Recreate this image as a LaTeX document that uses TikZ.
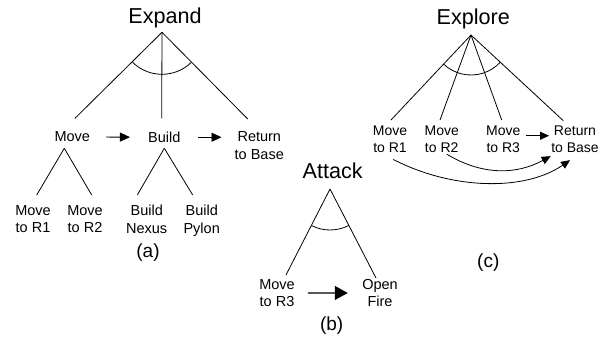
\documentclass[tikz,border=0pt]{standalone}
\usepackage{fontspec}
\setmainfont{Liberation Sans}
\usetikzlibrary{arrows.meta,calc}
\begin{document}
\begin{tikzpicture}[x=1pt,y=-1pt,
  ln/.style={line width=0.8pt},
  arr/.style={line width=0.9pt,-{Triangle[length=10pt,width=9pt]}},
  sarr/.style={line width=0.8pt,-{Triangle[length=9pt,width=8pt]}},
  barr/.style={line width=1.2pt,-{Triangle[length=13pt,width=14pt]}},
  ttl/.style={font=\fontsize{21.6}{26}\selectfont, anchor=base, inner sep=0pt},
  sub/.style={font=\fontsize{19}{23}\selectfont, inner sep=0pt},
  lblA/.style={font=\fontsize{14.5}{17.6}\selectfont, align=center, anchor=north, inner xsep=0pt, inner ysep=13.4pt},
  lblL/.style={font=\fontsize{14.5}{17.6}\selectfont, align=center, anchor=north, inner xsep=0pt, inner ysep=10pt},
  lblE/.style={font=\fontsize{14}{16.7}\selectfont, align=center, anchor=north, inner xsep=0pt, inner ysep=6pt},
  lblB/.style={font=\fontsize{14.5}{16.7}\selectfont, align=center, anchor=north, inner xsep=0pt, inner ysep=4pt}
]
\fill[white] (0,0) rectangle (610,343);
\useasboundingbox (0,0) rectangle (610,343);

% ---------- (a) Expand ----------
\node[ttl] (expand) at (165,23.5) {Expand};
\coordinate (ea) at (162,32.3);
\node[lblA] (move)  at (72.3,118.3) {Move};
\node[lblA] (build) at (164.3,118.3) {Build};
\node[lblA] (ret)   at (259.3,118.3) {Return\\to Base};
\draw[ln] (ea) -- ($(move.north)+(2.7,0)$);
\draw[ln] (ea) -- ($(build.north)+(-2.6,0)$);
\draw[ln] (ea) -- ($(ret.north)+(-11.6,0.7)$);
\draw[ln] ($(ea)+(45.3:42)$) arc[start angle=45.3,end angle=135.3,radius=42];
\draw[arr, shorten <=16pt, shorten >=18pt] (move.east) -- (build.west);
\draw[arr, shorten <=17.6pt, shorten >=13pt] (build.east) -- (build.east -| ret.west);

\coordinate (mva) at (64.3,148.3);
\coordinate (bda) at (164.3,148.3);
\node[lblL] (m1)    at (33,195)    {Move\\to R1};
\node[lblL] (m2)    at (85,195)    {Move\\to R2};
\node[lblL] (nexus) at (146.7,195) {Build\\Nexus};
\node[lblL] (pylon) at (201.7,195) {Build\\Pylon};
\draw[ln] (mva) -- ($(m1.north)+(3.7,0)$);
\draw[ln] (mva) -- ($(m2.north)+(6.7,0)$);
\draw[ln] (bda) -- ($(nexus.north)+(-9.4,0)$);
\draw[ln] (bda) -- ($(pylon.north)+(-9,0)$);
\node[sub] (capa) at (148,252.5) {(a)};

% ---------- (b) Attack ----------
\node[ttl] (attack) at (332.7,178.3) {Attack};
\coordinate (aa) at (330,189);
\node[lblB] (am) at (277,275.3) {Move\\to R3};
\node[lblB] (af) at (380,275.3) {Open\\Fire};
\draw[ln] (aa) -- ($(am.north)+(9,-0.3)$);
\draw[ln] (aa) -- ($(af.north)+(-4,2.7)$);
\draw[ln] ($(aa)+(62.7:41)$) arc[start angle=62.7,end angle=117.1,radius=41];
\draw[barr, shorten <=13pt, shorten >=14.3pt] (am.east) -- (af.west);
\node[sub] (capb) at (331.7,325.5) {(b)};

% ---------- (c) Explore ----------
\node[ttl] (explore) at (473.3,24) {Explore};
\coordinate (xa) at (471,35);
\node[lblE] (x1) at (390,120)   {Move\\to R1};
\node[lblE] (x2) at (441.7,120) {Move\\to R2};
\node[lblE] (x3) at (503.3,120) {Move\\to R3};
\node[lblE] (xr) at (575,120)   {Return\\to Base};
\draw[ln] (xa) -- ($(x1.north)+(1,0)$);
\draw[ln] (xa) -- ($(x2.north)+(-1.7,0)$);
\draw[ln] (xa) -- ($(x3.north)+(-1.6,0)$);
\draw[ln] (xa) -- ($(xr.north)+(-11.7,0.7)$);
\draw[ln] ($(xa)+(42.9:40)$) arc[start angle=42.9,end angle=133.3,radius=40];
\coordinate (x3e) at ($(x3.east)+(0,-3.7)$);
\draw[sarr, shorten <=5.6pt, shorten >=2pt] (x3e) -- (x3e -| xr.west);
\draw[sarr] ($(x2.south)+(5,-4.7)$) .. controls +(35,21) and +(-35,19) .. ($(xr.south)+(-24.3,-2.7)$);
\draw[sarr] ($(x1.south)+(3.3,0.6)$) .. controls +(59.7,30.7) and +(-45,31) .. ($(xr.south)+(-5,1.3)$);
\node[sub] (capc) at (488.3,262.5) {(c)};
\end{tikzpicture}
\end{document}
